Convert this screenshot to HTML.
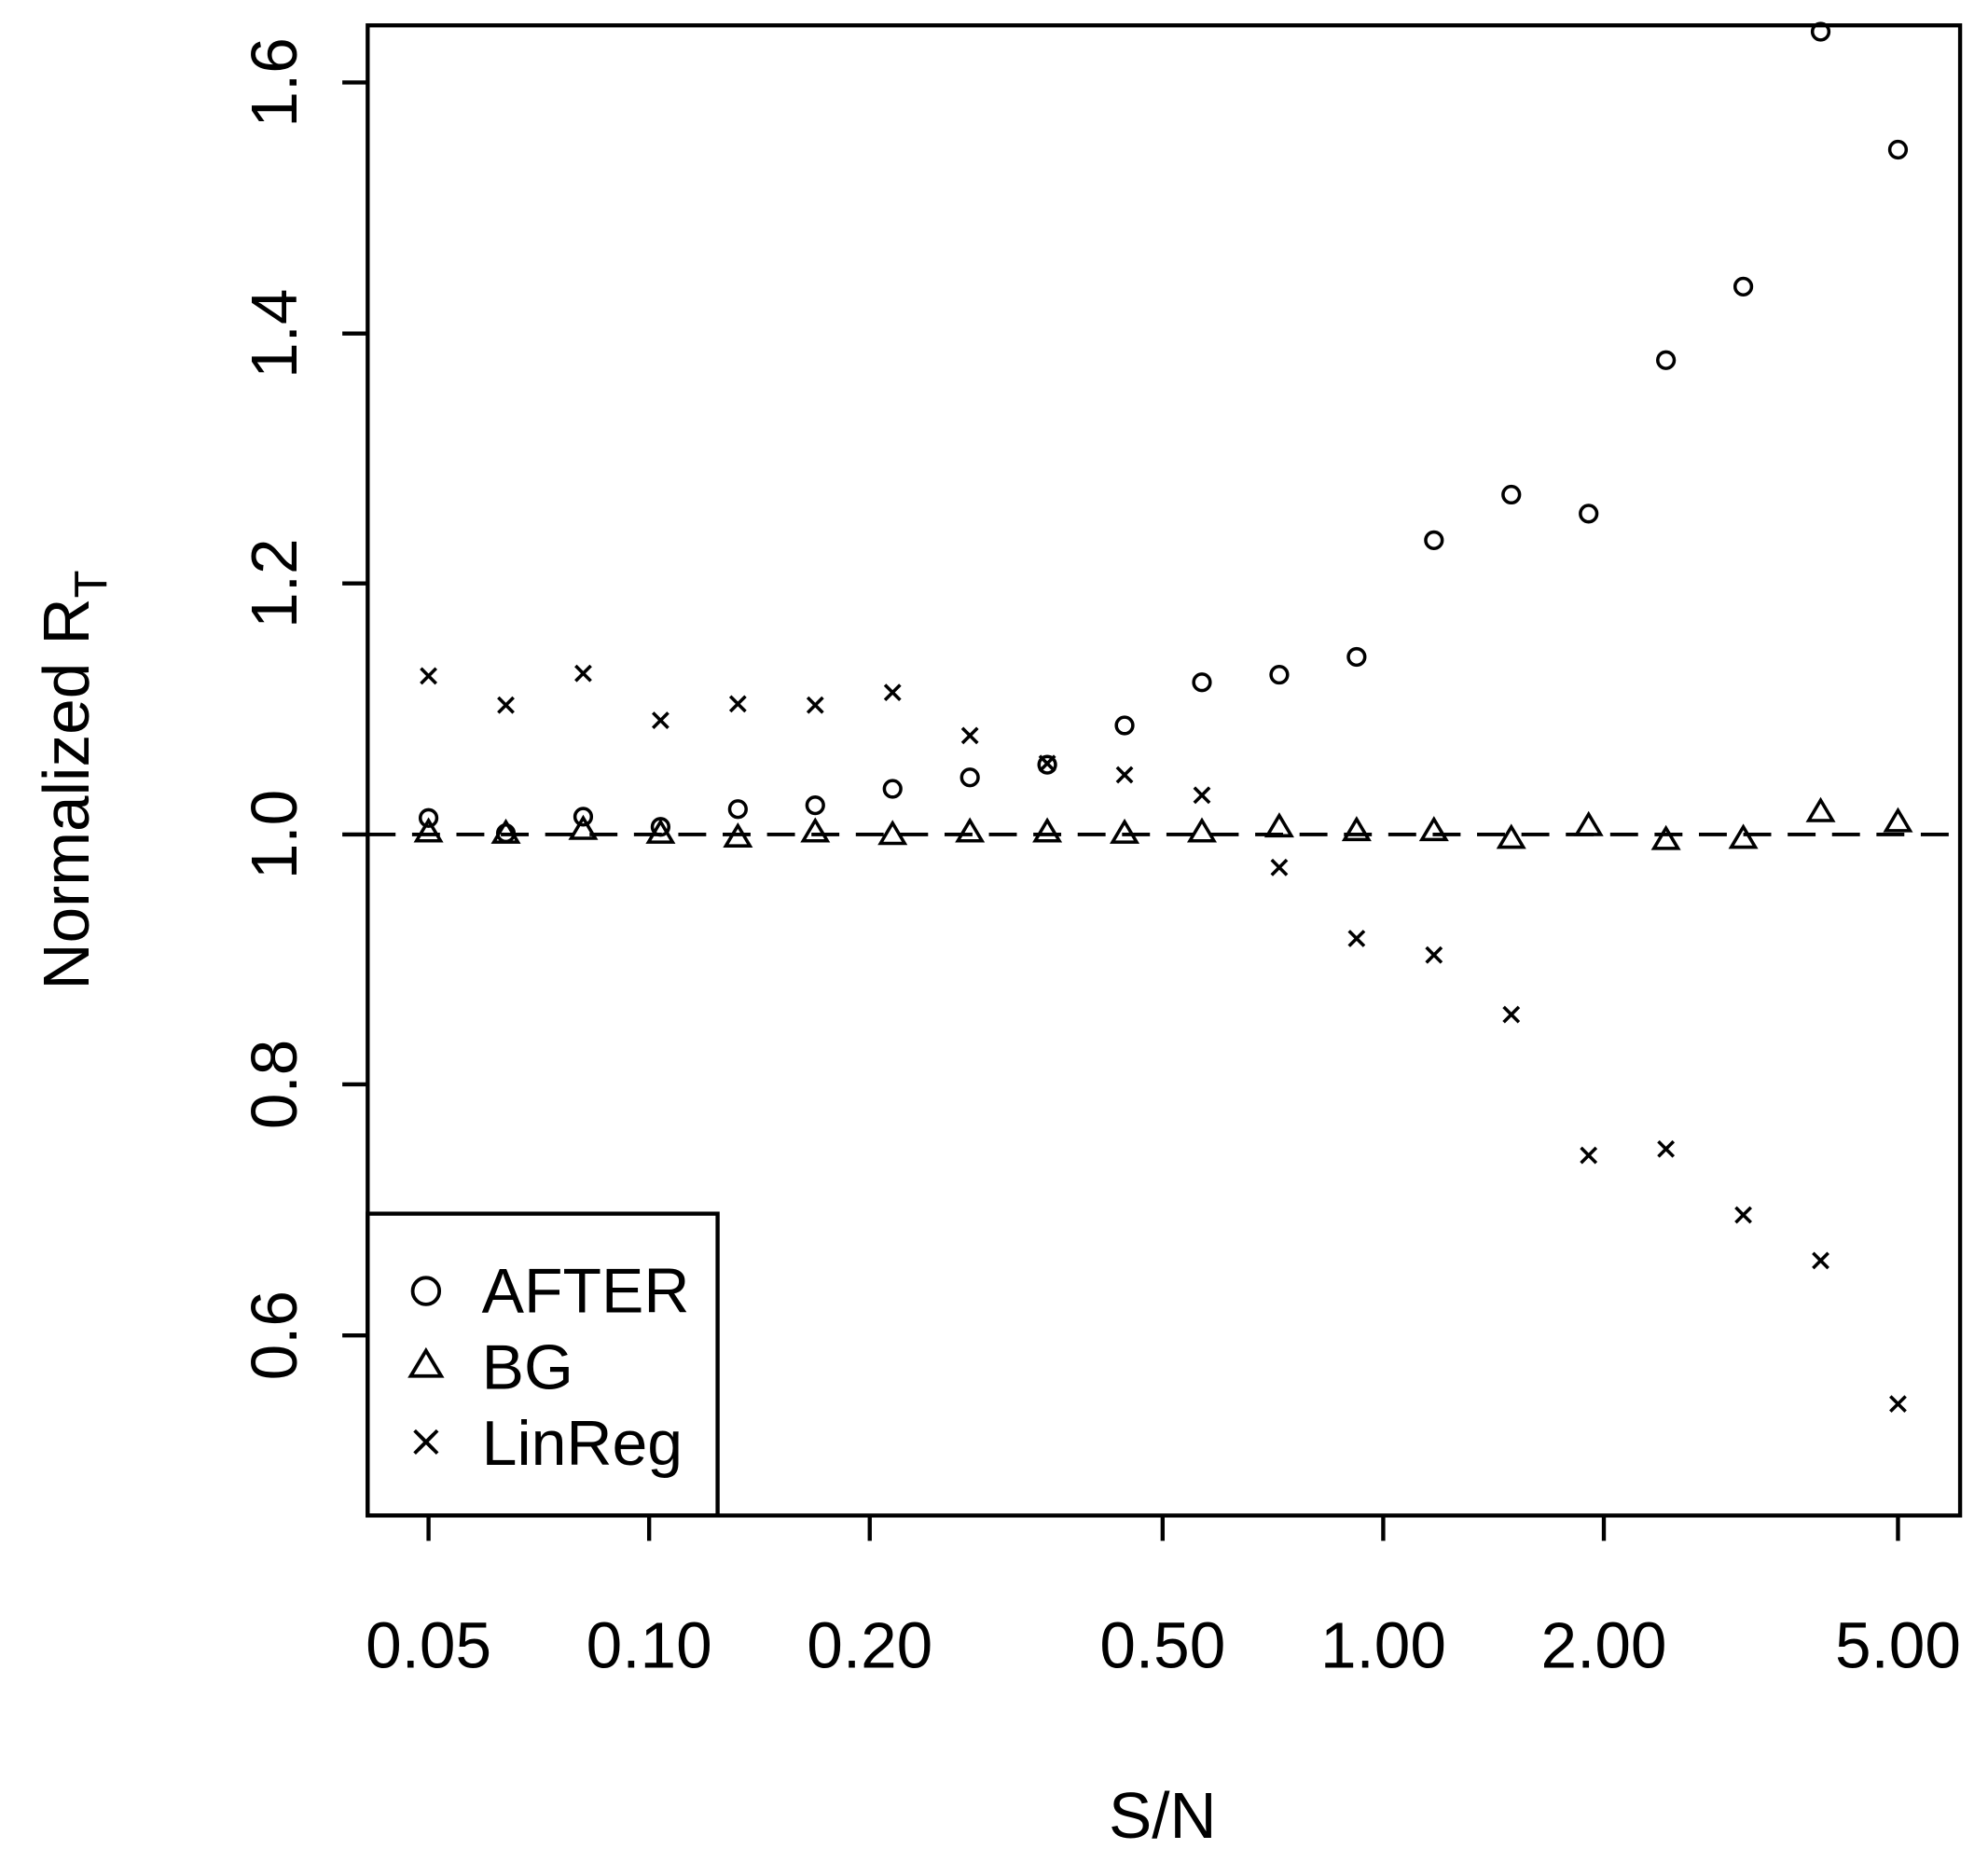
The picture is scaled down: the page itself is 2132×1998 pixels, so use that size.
<!DOCTYPE html>
<html><head><style>html,body{margin:0;padding:0;background:#fff}svg{display:block}</style></head>
<body>
<svg width="2132" height="1998" viewBox="0 0 1568 1469" preserveAspectRatio="none" xmlns="http://www.w3.org/2000/svg" font-family="Liberation Sans, sans-serif">
<defs>
<circle id="c" cx="0" cy="0" r="6.5" fill="none" stroke="#000" stroke-width="2.6"/>
<path id="t" d="M-9.5 6L0 -10L9.5 6Z" fill="none" stroke="#000" stroke-width="2.6"/>
<path id="x" d="M-6 -6L6 6M-6 6L6 -6" fill="none" stroke="#000" stroke-width="2.6"/>
</defs>
<rect x="0" y="0" width="1568" height="1469" fill="#fff"/>
<g stroke="#000" stroke-width="3.2" fill="none">
<rect x="290" y="20" width="1256" height="1175"/>
<line x1="290" y1="658" x2="1546" y2="658" stroke-dasharray="22,13" stroke-width="2.8"/>
<path d="M290 65H270M290 263H270M290 460H270M290 658H270M290 855H270M290 1053H270"/>
<path d="M338 1195V1215M512 1195V1215M686 1195V1215M917 1195V1215M1091 1195V1215M1265 1195V1215M1497 1195V1215"/>
<rect x="290" y="957" width="276" height="238"/>
</g>
<g font-size="51" fill="#000" text-anchor="middle">
<text transform="translate(234,65) rotate(-90)">1.6</text>
<text transform="translate(234,263) rotate(-90)">1.4</text>
<text transform="translate(234,460) rotate(-90)">1.2</text>
<text transform="translate(234,658) rotate(-90)">1.0</text>
<text transform="translate(234,855) rotate(-90)">0.8</text>
<text transform="translate(234,1053) rotate(-90)">0.6</text>
<text x="338" y="1315">0.05</text>
<text x="512" y="1315">0.10</text>
<text x="686" y="1315">0.20</text>
<text x="917" y="1315">0.50</text>
<text x="1091" y="1315">1.00</text>
<text x="1265" y="1315">2.00</text>
<text x="1497" y="1315">5.00</text>
<text x="917" y="1449">S/N</text>
<text transform="translate(70,615) rotate(-90)">Normalized R<tspan font-size="36" dy="14">T</tspan></text>
</g>
<g font-size="50" fill="#000">
<text x="380" y="1035">AFTER</text>
<text x="380" y="1095">BG</text>
<text x="380" y="1155">LinReg</text>
</g>
<g stroke="#000" stroke-width="2.8" fill="none">
<circle cx="336" cy="1018" r="10.5"/>
<path d="M324 1085L336 1065L348 1085Z"/>
<path d="M330 1131L342 1143M330 1143L342 1131" transform="translate(0,0) scale(1)"/>
<path d="M327 1128L345 1146M327 1146L345 1128"/>
</g>
<!-- AFTER -->
<use href="#c" x="338" y="645"/><use href="#c" x="399" y="657"/><use href="#c" x="460" y="644"/><use href="#c" x="521" y="652"/><use href="#c" x="582" y="638"/><use href="#c" x="643" y="635"/><use href="#c" x="704" y="622"/><use href="#c" x="765" y="613"/><use href="#c" x="826" y="603"/><use href="#c" x="887" y="572"/><use href="#c" x="948" y="538"/><use href="#c" x="1009" y="532"/><use href="#c" x="1070" y="518"/><use href="#c" x="1131" y="426"/><use href="#c" x="1192" y="390"/><use href="#c" x="1253" y="405"/><use href="#c" x="1314" y="284"/><use href="#c" x="1375" y="226"/><use href="#c" x="1436" y="25"/><use href="#c" x="1497" y="118"/>
<!-- BG -->
<use href="#t" x="338" y="657"/><use href="#t" x="399" y="658"/><use href="#t" x="460" y="655"/><use href="#t" x="521" y="658"/><use href="#t" x="582" y="661"/><use href="#t" x="643" y="657"/><use href="#t" x="704" y="659"/><use href="#t" x="765" y="657"/><use href="#t" x="826" y="657"/><use href="#t" x="887" y="658"/><use href="#t" x="948" y="657"/><use href="#t" x="1009" y="653"/><use href="#t" x="1070" y="656"/><use href="#t" x="1131" y="656"/><use href="#t" x="1192" y="662"/><use href="#t" x="1253" y="652"/><use href="#t" x="1314" y="663"/><use href="#t" x="1375" y="662"/><use href="#t" x="1436" y="641"/><use href="#t" x="1497" y="649"/>
<!-- LinReg -->
<use href="#x" x="338" y="533"/><use href="#x" x="399" y="556"/><use href="#x" x="460" y="531"/><use href="#x" x="521" y="568"/><use href="#x" x="582" y="555"/><use href="#x" x="643" y="556"/><use href="#x" x="704" y="546"/><use href="#x" x="765" y="580"/><use href="#x" x="826" y="602"/><use href="#x" x="887" y="611"/><use href="#x" x="948" y="627"/><use href="#x" x="1009" y="684"/><use href="#x" x="1070" y="740"/><use href="#x" x="1131" y="753"/><use href="#x" x="1192" y="800"/><use href="#x" x="1253" y="911"/><use href="#x" x="1314" y="906"/><use href="#x" x="1375" y="958"/><use href="#x" x="1436" y="994"/><use href="#x" x="1497" y="1107"/>
</svg>
</body></html>
